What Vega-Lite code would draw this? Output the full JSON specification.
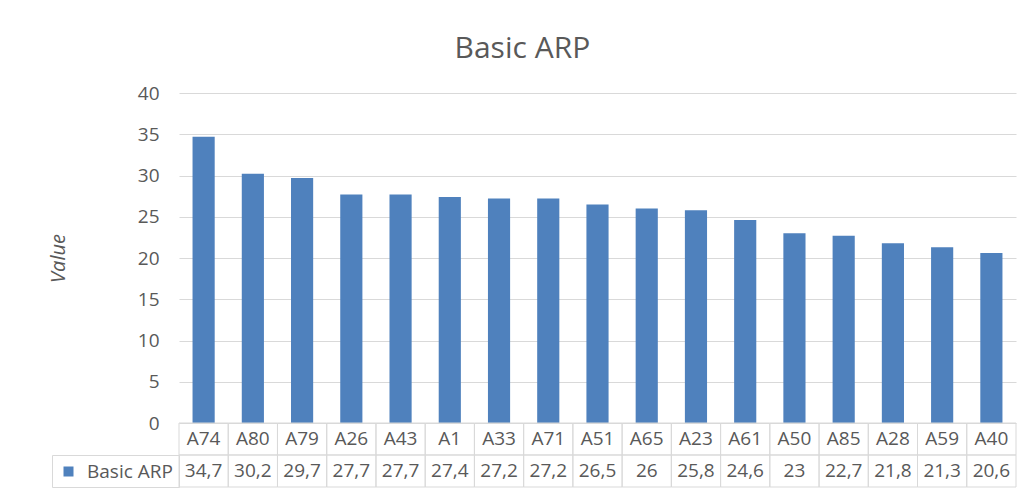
{
  "$schema": "https://vega.github.io/schema/vega-lite/v6.json",
  "padding": {"left": 48, "top": 34, "right": 0, "bottom": 0},
  "background": "white",
  "title": {"text": "Basic ARP", "fontSize": 30, "font": "Open Sans", "color": "#595959", "fontWeight": "normal", "anchor": "middle", "offset": 20, "dx": -10},
  "datasets": {
    "arp": [
      {"cat": "A74", "v": 34.7},
      {"cat": "A80", "v": 30.2},
      {"cat": "A79", "v": 29.7},
      {"cat": "A26", "v": 27.7},
      {"cat": "A43", "v": 27.7},
      {"cat": "A1", "v": 27.4},
      {"cat": "A33", "v": 27.2},
      {"cat": "A71", "v": 27.2},
      {"cat": "A51", "v": 26.5},
      {"cat": "A65", "v": 26},
      {"cat": "A23", "v": 25.8},
      {"cat": "A61", "v": 24.6},
      {"cat": "A50", "v": 23},
      {"cat": "A85", "v": 22.7},
      {"cat": "A28", "v": 21.8},
      {"cat": "A59", "v": 21.3},
      {"cat": "A40", "v": 20.6}
    ]
  },
  "columns": 2,
  "spacing": 0,
  "bounds": "flush",
  "resolve": {"scale": {"color": "independent", "x": "independent", "y": "independent"}, "legend": {"color": "independent"}},
  "concat": [
    {"width": 127, "height": 330, "data": {"values": []}, "mark": "point", "encoding": {}},
    {
      "width": 837, "height": 330,
      "data": {"name": "arp"},
      "mark": {"type": "bar", "color": "#4f81bd"},
      "encoding": {
        "x": {"field": "cat", "type": "nominal", "sort": null, "axis": null, "scale": {"paddingInner": 0.55, "paddingOuter": 0.275}},
        "y": {"field": "v", "type": "quantitative", "scale": {"domain": [0, 40]},
          "axis": {"values": [0, 5, 10, 15, 20, 25, 30, 35, 40], "title": "Value", "titleFontStyle": "italic", "titleFontWeight": "normal", "titleFontSize": 20, "titlePadding": 69, "labelFontSize": 19, "labelPadding": 20, "domain": false, "ticks": false, "gridColor": "#d9d9d9"}}
      }
    },
    {"width": 127, "height": 32, "data": {"values": []}, "mark": "point", "encoding": {}},
    {
      "width": 837, "height": 32,
      "data": {"name": "arp"},
      "encoding": {
        "x": {"field": "cat", "type": "nominal", "sort": null, "scale": {"paddingInner": 0, "paddingOuter": 0}, "axis": null}
      },
      "layer": [
        {"mark": {"type": "rect", "fill": "transparent", "stroke": "#d9d9d9", "strokeWidth": 1}},
        {"mark": {"type": "text", "fontSize": 19, "color": "#595959", "font": "Open Sans"}, "encoding": {"text": {"field": "cat"}}}
      ]
    },
    {
      "width": 127, "height": 32,
      "data": {"values": [{"series": "Basic ARP"}]},
      "view": {"stroke": "#d9d9d9"},
      "mark": {"type": "point", "opacity": 0, "filled": true, "shape": "square"},
      "encoding": {
        "color": {"field": "series", "type": "nominal", "scale": {"range": ["#4f81bd"]},
          "legend": {"orient": "top-left", "offset": 7, "title": null, "symbolType": "square", "symbolSize": 100, "symbolOpacity": 1, "symbolStrokeWidth": 0, "labelFontSize": 19, "labelFont": "Open Sans", "labelColor": "#595959", "labelOffset": 9, "padding": 0}}
      }
    },
    {
      "width": 837, "height": 32,
      "data": {"name": "arp"},
      "encoding": {
        "x": {"field": "cat", "type": "nominal", "sort": null, "scale": {"paddingInner": 0, "paddingOuter": 0}, "axis": null}
      },
      "layer": [
        {"mark": {"type": "rect", "fill": "transparent", "stroke": "#d9d9d9", "strokeWidth": 1}},
        {"mark": {"type": "text", "fontSize": 19, "color": "#595959", "font": "Open Sans"}, "encoding": {"text": {"field": "v", "type": "quantitative", "format": ".1~f"}}}
      ]
    }
  ],
  "config": {
    "view": {"stroke": null},
    "axis": {"labelFont": "Open Sans", "titleFont": "Open Sans", "labelColor": "#595959", "titleColor": "#595959"},
    "locale": {"number": {"decimal": ",", "thousands": ".", "grouping": [3], "currency": ["", " €"]}}
  }
}
